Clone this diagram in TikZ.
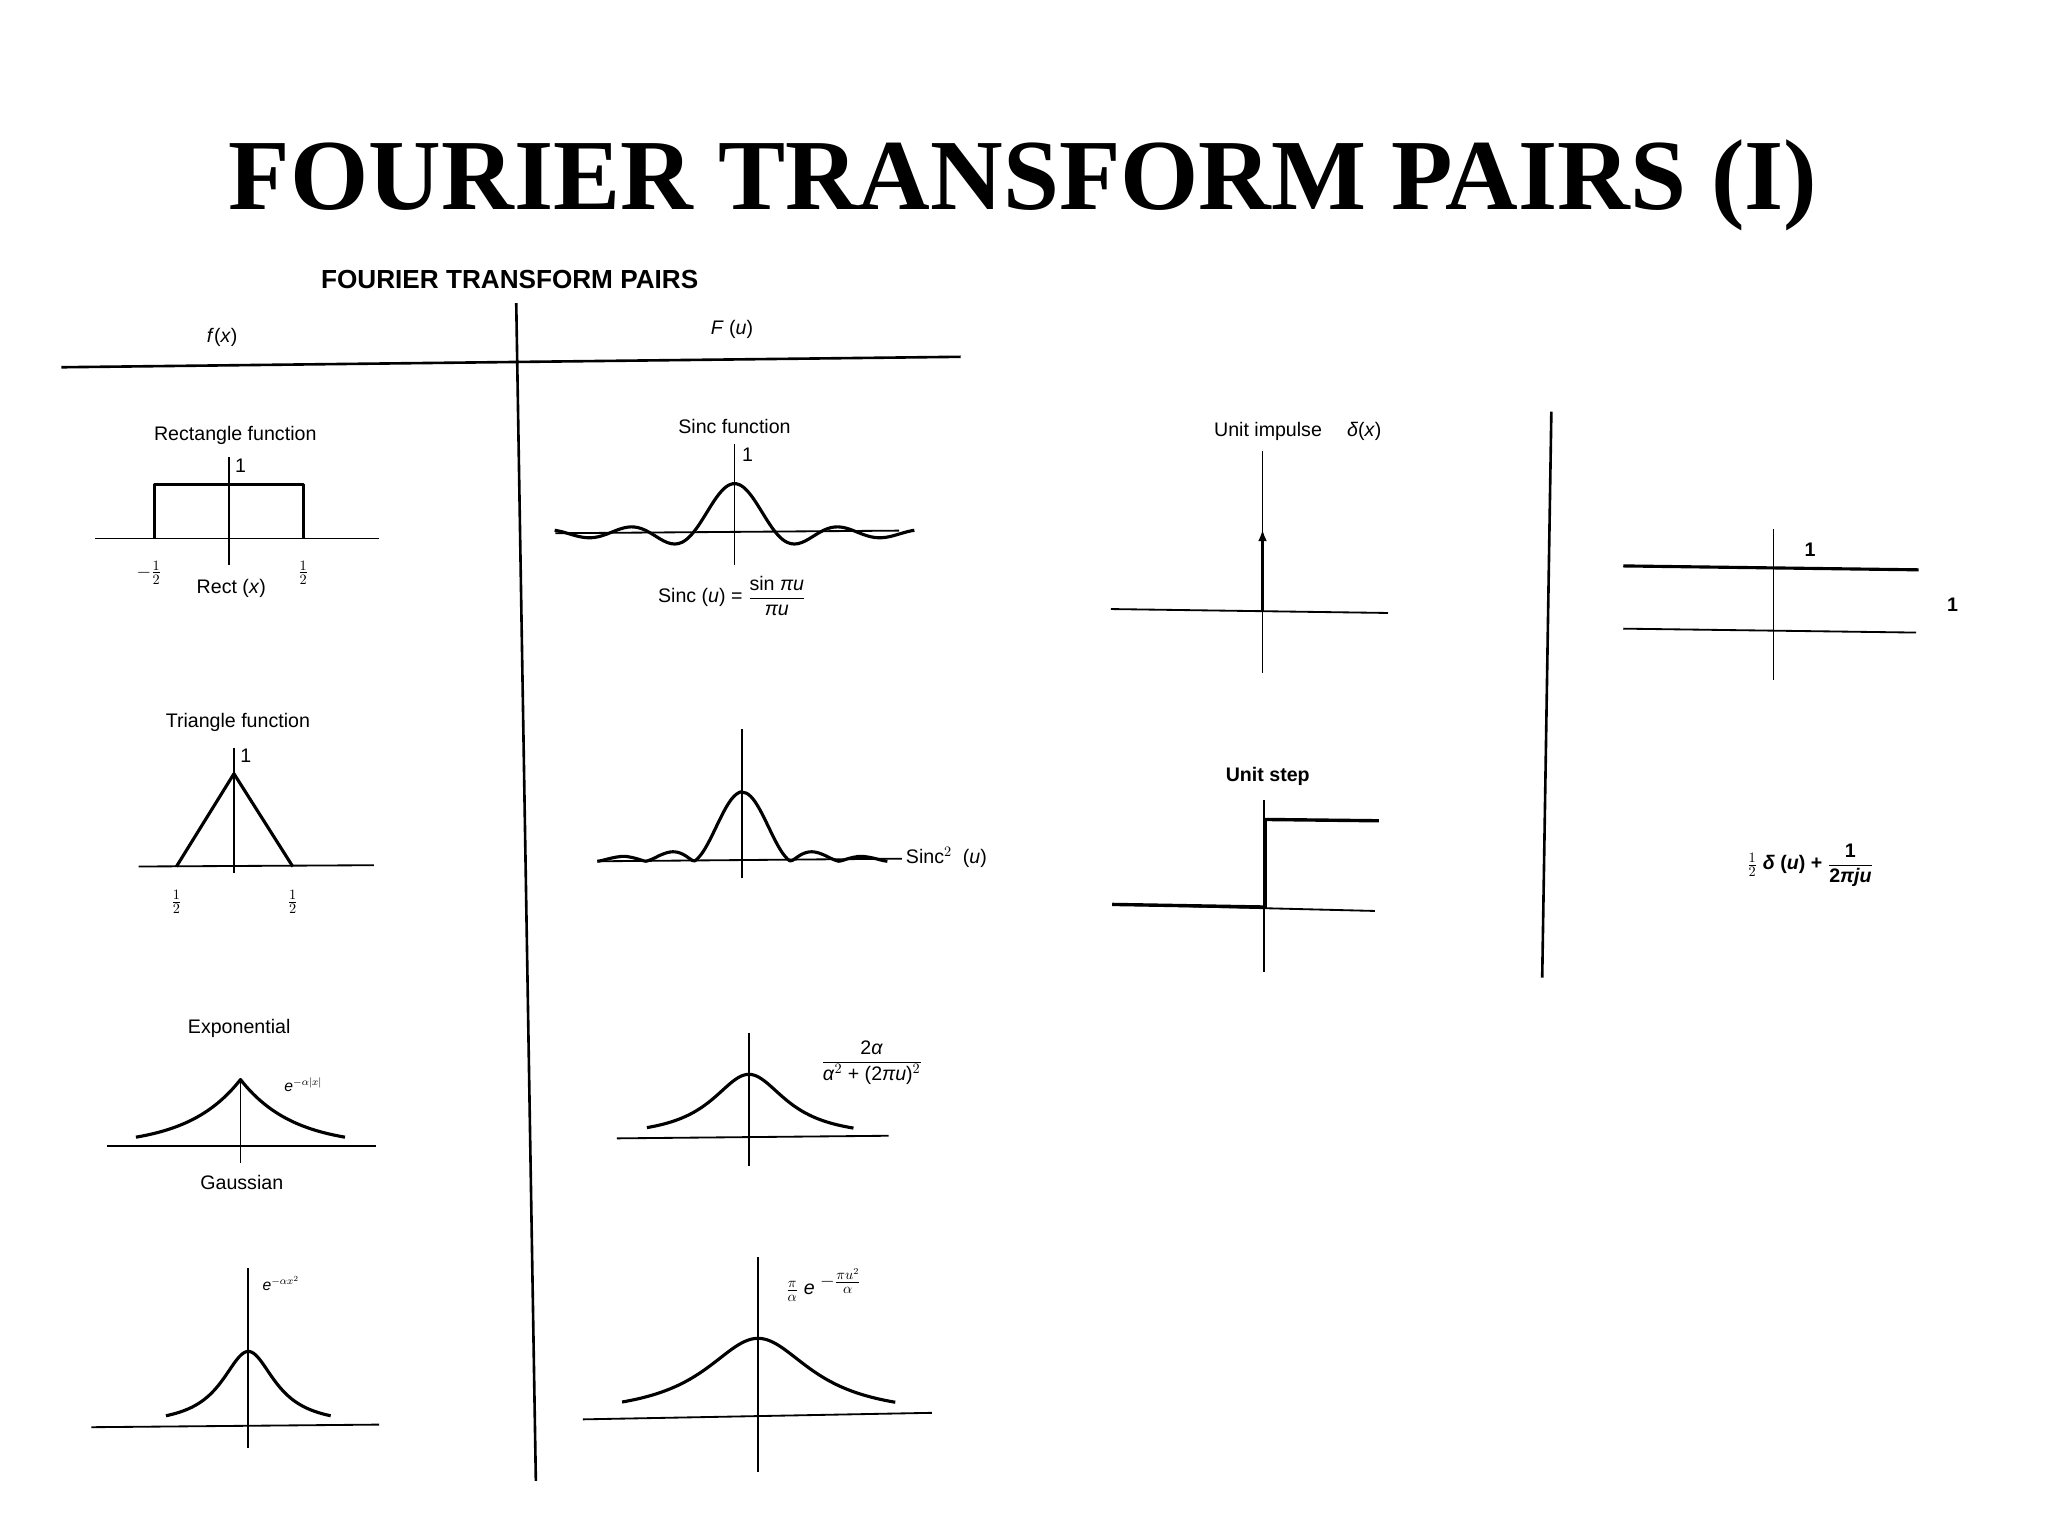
\documentclass[tikz,border=0pt]{standalone}
\usepackage{amsmath}
\usepackage{fontspec}
\setmainfont{Liberation Sans}
\newfontfamily\titlefont{Liberation Serif}
\usetikzlibrary{arrows.meta}
\newcommand{\fr}[2]{\ensuremath{\dfrac{\text{#1}}{\text{#2}}}}
\begin{document}
\begin{tikzpicture}[x=1pt,y=-1pt,
  lab/.style={font=\fontsize{15}{17}\selectfont,inner sep=1pt},
  ax/.style={line width=1.4pt},
  crv/.style={line width=2.4pt,line join=round}]
\useasboundingbox (0,0) rectangle (1567,1175);
\node (title) at (783,142) {\titlefont\bfseries\fontsize{77}{82}\selectfont FOURIER TRANSFORM PAIRS (I)};
\node[font=\bfseries\fontsize{20}{22}\selectfont] (sub) at (390,214) {FOURIER TRANSFORM PAIRS};
\node[lab] (fx) at (170,258) {\textit{f}(\textit{x})};
\node[lab] (Fu) at (560,252) {\textit{F} (\textit{u})};
\draw[line width=2pt] (47,281) -- (735,273);
\draw[line width=2pt] (395,232) -- (410,1133);
\draw[line width=2pt] (1187,315) -- (1180,748);
% rectangle
\node[lab] (rl) at (180,333) {Rectangle function};
\draw[ax] (73,412) -- (290,412); \draw[ax] (175,350) -- (175,432);
\draw[crv] (118,412) -- (118,371) -- (232,371) -- (232,412);
\node[lab] (r1) at (184,356) {1};
\node[lab] (rm) at (114,438) {$-\frac12$};
\node[lab] (rp) at (232,438) {$\frac12$};
\node[lab] (rr) at (177,450) {Rect (\textit{x})};
% sinc
\node[lab] (sl) at (562,326) {Sinc function};
\draw[ax] (425,408) -- (688,406); \draw[ax] (562,340) -- (562,432);
\draw[crv] plot[domain=-4.3:4.3,samples=100,smooth] ({562+32*\x},{408-38*sin(180*\x)/(3.14159*\x)});
\node[lab] (s1) at (572,348) {1};
\node[lab] (sf) at (560,456) {Sinc (\textit{u}) = \fr{sin \textit{πu}}{\textit{πu}}};
% impulse
\node[lab] (il) at (993,330) {Unit impulse \quad \textit{δ}(\textit{x})};
\draw[ax] (850,466) -- (1062,469); \draw[ax] (966,345) -- (966,515);
\draw[line width=2.2pt,-{Latex[length=9pt]}] (966,468) -- (966,405);
\draw[ax] (1357,405) -- (1357,520);
\draw[line width=2.4pt] (1242,433) -- (1468,436);
\draw[ax] (1242,481) -- (1466,484);
\node[lab] (i1) at (1385,421) {\bfseries 1};
\node[lab] (i2) at (1494,463) {\bfseries 1};
% triangle
\node[lab] (tl) at (182,553) {Triangle function};
\draw[ax] (106,663) -- (286,662); \draw[ax] (179,572) -- (179,668);
\draw[crv] (135,663) -- (179,592) -- (224,663);
\node[lab] (t1) at (188,578) {1};
\node[lab] (tm) at (135,690) {$\frac12$};
\node[lab] (tp) at (224,690) {$\frac12$};
% sinc^2
\draw[ax] (458,659) -- (690,657); \draw[ax] (568,558) -- (568,672);
\draw[crv] plot[domain=-3:3,samples=120,smooth] ({568+37*\x},{659-53*abs(sin(180*\x)/(3.14159*(\x+0.0001)))^1.3});
\node[lab,anchor=west] (s2) at (692,656) {Sinc$^2$ \ (\textit{u})};
% step
\node[lab] (ul) at (970,594) {\bfseries Unit step};
\draw[ax] (851,692) -- (1052,697); \draw[ax] (967,612) -- (967,744);
\draw[line width=2.6pt] (851,692) -- (968,694) -- (968,627) -- (1055,628);
\node[lab] (uf) at (1385,662) {\bfseries $\frac12$ \textit{δ} (\textit{u}) + \fr{\bfseries 1}{\bfseries 2\textit{πju}}};
% exponential
\node[lab] (el) at (183,787) {Exponential};
\draw[ax] (82,877) -- (288,877); \draw[ax] (184,825) -- (184,890);
\draw[crv] plot[domain=-80:80,samples=81] ({184+\x},{877-51*exp(-abs(\x)/40)});
\node[lab] (ef) at (232,830) {\fontsize{12}{13}\selectfont\textit{e}$^{-\alpha|x|}$};
\node[lab] (gl) at (185,905) {Gaussian};
\draw[ax] (472,871) -- (680,869); \draw[ax] (573,790) -- (573,892);
\draw[crv] plot[domain=-78:80,samples=80,smooth] ({573+\x},{871-49/(1+(\x/35)^2)});
\node[lab] (lf) at (667,813) {\fr{2\textit{α}}{\textit{α}$^2$ + (2\textit{πu})$^2$}};
% gaussian
\draw[ax] (70,1092) -- (290,1090); \draw[ax] (190,970) -- (190,1108);
\draw[crv] plot[domain=-63:63,samples=80,smooth] ({190+\x},{1091-57/(1+(\x/25)^2)});
\node[lab] (gf) at (215,982) {\fontsize{12}{13}\selectfont\textit{e}$^{-\alpha x^2}$};
\draw[ax] (446,1086) -- (713,1081); \draw[ax] (580,962) -- (580,1126);
\draw[crv] plot[domain=-104:105,samples=90,smooth] ({580+\x},{1084-60/(1+(\x/50)^2)});
\node[lab] (gg) at (630,983) {$\frac{\pi}{\alpha}$\ \textit{e}\ \raisebox{6pt}{$-\frac{\pi u^2}{\alpha}$}};
\end{tikzpicture}
\end{document}
